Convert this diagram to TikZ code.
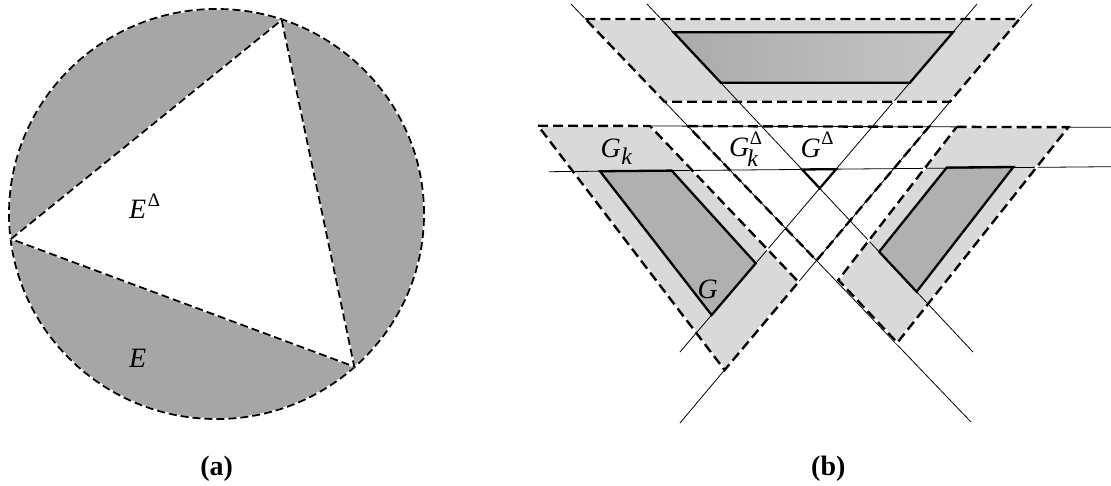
\documentclass[tikz,border=0pt]{standalone}
\usepackage{fontspec}
\setmainfont{Liberation Serif}
\definecolor{circgray}{HTML}{A6A6A6}
\definecolor{lightg}{HTML}{D9D9D9}
\definecolor{darkg}{HTML}{B0B0B0}
\definecolor{darkgA}{HTML}{AAAAAA}
\definecolor{darkgB}{HTML}{C6C6C6}
\newcommand{\supDelta}[1]{\raisebox{#1}{\fontsize{19}{19}\selectfont Δ}}
\newcommand{\subK}[1]{\raisebox{#1}{\fontsize{24}{24}\selectfont\itshape k}}
\tikzset{
  dashA/.style={line width=1.8, dash pattern=on 8 off 4,
    preaction={draw=white, solid, line width=1.8}},
  dashK/.style={line width=2.4, dash pattern=on 10 off 5, line join=miter,
    preaction={draw=white, solid, line width=2.4}},
  dashT/.style={line width=2.4, dash pattern=on 10 off 5},
  gborder/.style={line width=2.3, line join=miter},
  thinln/.style={line width=0.8},
  lbl/.style={inner sep=0pt, anchor=base west, font=\fontsize{28}{30}\selectfont},
  captionlbl/.style={inner sep=0pt, anchor=base, font=\fontsize{28}{30}\selectfont\bfseries},
}
\begin{document}
\begin{tikzpicture}[x=1pt,y=-1pt]
\useasboundingbox (0,0) rectangle (1111,486);

% ---------------- panel (a) ----------------
\coordinate (C0) at (216.5,214);
\coordinate (V1) at (11,239);
\coordinate (V2) at (281.7,20);
\coordinate (V3) at (354.3,366.7);
\fill[circgray] (C0) ellipse [x radius=207.5pt, y radius=205pt];
\fill[white] (V1) -- (V2) -- (V3) -- cycle;
\draw[dashA] (C0) ellipse [x radius=207.5pt, y radius=205pt];
\draw[dashA] (V1) -- (V2) -- (V3) -- cycle;
\node[lbl] (lEd) at (129,218.5) {\textit{E}\kern1.5pt\supDelta{11.5pt}};
\node[lbl] (lE) at (129,367.7) {\textit{E}};
\node[captionlbl] (capa) at (216.7,475) {(a)};

% ---------------- panel (b) ----------------
% thin lines
\coordinate (L1a) at (571,4);   \coordinate (L1b) at (971,422);
\coordinate (L2a) at (647,4);   \coordinate (L2b) at (973,352);
\coordinate (R1a) at (977,4);   \coordinate (R1b) at (680,352);
\coordinate (R2a) at (1032,4);  \coordinate (R2b) at (680,423);
\coordinate (H1a) at (538,125.7); \coordinate (H1b) at (1111,127.3);
\coordinate (H2a) at (549,171.7); \coordinate (H2b) at (1111,166.7);
% helper horizontals
\coordinate (a19) at (0,19);     \coordinate (b19) at (1111,19);
\coordinate (a101) at (0,101.7); \coordinate (b101) at (1111,101.7);
\coordinate (a32) at (0,32.3);   \coordinate (b32) at (1111,32.3);
\coordinate (a82) at (0,82.7);   \coordinate (b82) at (1111,82.7);
\coordinate (a282) at (0,282);   \coordinate (b282) at (1111,282);
\coordinate (a370) at (0,370);   \coordinate (b370) at (1111,370);
\coordinate (a263) at (0,263.3); \coordinate (b263) at (1111,263.3);
\coordinate (a315) at (0,315);   \coordinate (b315) at (1111,315);
\coordinate (a251) at (0,251.7); \coordinate (b251) at (1111,251.7);
\coordinate (a291) at (0,291.7); \coordinate (b291) at (1111,291.7);

% top piece
\coordinate (tk1) at (intersection of L1a--L1b and a19--b19);
\coordinate (tk2) at (intersection of R2a--R2b and a19--b19);
\coordinate (tk3) at (intersection of R2a--R2b and a101--b101);
\coordinate (tk4) at (intersection of L1a--L1b and a101--b101);
\coordinate (tg1) at (intersection of L2a--L2b and a32--b32);
\coordinate (tg2) at (intersection of R1a--R1b and a32--b32);
\coordinate (tg3) at (intersection of R1a--R1b and a82--b82);
\coordinate (tg4) at (intersection of L2a--L2b and a82--b82);
% left piece
\coordinate (lk1) at (538,125.7);
\coordinate (lk2) at (650,126);
\coordinate (lk3) at (intersection of R2a--R2b and a282--b282);
\coordinate (lk4) at (intersection of R2a--R2b and a370--b370);
\coordinate (lg1) at (600,171.25);
\coordinate (lg2) at (671.7,170.6);
\coordinate (lg3) at (intersection of R1a--R1b and a263--b263);
\coordinate (lg4) at (intersection of R1a--R1b and a315--b315);
% right piece
\coordinate (rk1) at (956.7,126.9);
\coordinate (rk2) at (1068.3,127.2);
\coordinate (rk3) at (897.3,342.7);
\coordinate (rk4) at (838.3,280);
\coordinate (rg1) at (946.7,167.6);
\coordinate (rg2) at (1013.3,167.0);
\coordinate (rg3) at (intersection of L2a--L2b and a291--b291);
\coordinate (rg4) at (intersection of L2a--L2b and a251--b251);
% triangles
\coordinate (gd1) at (intersection of H2a--H2b and L2a--L2b);
\coordinate (gd2) at (intersection of H2a--H2b and R1a--R1b);
\coordinate (gd3) at (intersection of L2a--L2b and R1a--R1b);
\coordinate (gk1) at (intersection of H1a--H1b and L1a--L1b);
\coordinate (gk2) at (intersection of H1a--H1b and R2a--R2b);
\coordinate (gk3) at (intersection of L1a--L1b and R2a--R2b);

% fills
\fill[lightg] (tk1) -- (tk2) -- (tk3) -- (tk4) -- cycle;
\fill[lightg] (lk1) -- (lk2) -- (lk3) -- (lk4) -- cycle;
\fill[lightg] (rk1) -- (rk2) -- (rk3) -- (rk4) -- cycle;
\shade[left color=darkgA, right color=darkgB] (tg1) -- (tg2) -- (tg3) -- (tg4) -- cycle;
\fill[darkg] (lg1) -- (lg2) -- (lg3) -- (lg4) -- cycle;
\fill[darkg] (rg1) -- (rg2) -- (rg3) -- (rg4) -- cycle;

% thin lines
\draw[thinln] (L1a) -- (L1b);
\draw[thinln] (L2a) -- (L2b);
\draw[thinln] (R1a) -- (R1b);
\draw[thinln] (R2a) -- (R2b);
\draw[thinln] (H1a) -- (H1b);
\draw[thinln] (H2a) -- (H2b);

% G borders
\draw[gborder] (tg1) -- (tg2) -- (tg3) -- (tg4) -- cycle;
\draw[gborder] (lg1) -- (lg2) -- (lg3) -- (lg4) -- cycle;
\draw[gborder] (rg1) -- (rg2) -- (rg3) -- (rg4) -- cycle;

% G_k borders
\draw[dashK] (tk1) -- (tk2) -- (tk3) -- (tk4) -- cycle;
\draw[dashK] (lk1) -- (lk2) -- (lk3) -- (lk4) -- cycle;
\draw[dashK] (rk1) -- (rk2) -- (rk3) -- (rk4) -- cycle;

% triangles
\draw[dashT] (gk1) -- (gk2) -- (gk3) -- cycle;
\draw[gborder] (gd1) -- (gd2) -- (gd3) -- cycle;

% labels
\node[lbl] (lGk) at (600.5,157.3) {\textit{G}\kern0.5pt\subK{-7.4pt}};
\node[lbl] (lGkd) at (729,157) {\textit{G}\rlap{\kern0.5pt\supDelta{12.5pt}}\kern-2pt\subK{-10pt}};
\node[lbl] (lGd) at (800.5,157.3) {\textit{G}\kern0.5pt\supDelta{12.5pt}};
\node[lbl] (lG) at (697.5,298.3) {\textit{G}};
\node[captionlbl] (capb) at (828.3,475) {(b)};
\end{tikzpicture}
\end{document}
